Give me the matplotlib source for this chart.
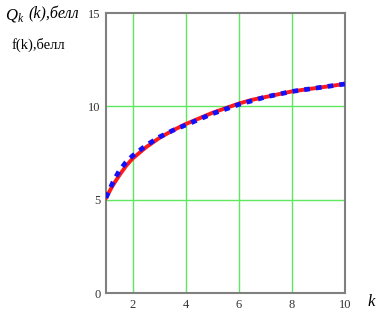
import matplotlib
matplotlib.use("Agg")
import matplotlib.pyplot as plt

plt.rcParams["mathtext.fontset"] = "custom"
plt.rcParams["mathtext.it"] = "Liberation Serif:italic"
plt.rcParams["mathtext.rm"] = "Liberation Serif"

k_vals = [1, 1.25, 1.5, 1.75, 2, 2.5, 3, 3.5, 4, 4.5, 5, 5.5, 6, 6.5, 7, 7.5, 8, 8.5, 9, 9.5, 10]
q_vals = [5.1, 5.9, 6.55, 7.0, 7.35, 7.9, 8.35, 8.7, 9.0, 9.3, 9.6, 9.85, 10.1, 10.3, 10.5, 10.65, 10.8, 10.9, 11.0, 11.1, 11.2]
f_vals = [5.1, 5.75, 6.3, 6.8, 7.2, 7.8, 8.3, 8.7, 9.05, 9.35, 9.65, 9.9, 10.15, 10.35, 10.5, 10.65, 10.8, 10.9, 11.0, 11.1, 11.2]
x_ticks = [2, 4, 6, 8, 10]
y_ticks = [0, 5, 10, 15]

fig = plt.figure(figsize=(3.91, 3.26), dpi=100)
ax = fig.add_axes([0.271, 0.101, 0.611, 0.859])
ax.set_xlim(1, 10)
ax.set_ylim(0, 15)
for v in [2, 4, 6, 8]:
    ax.axvline(v, color="#5ee85e", lw=1.0, zorder=1)
for v in [5, 10]:
    ax.axhline(v, color="#5ee85e", lw=1.0, zorder=1)
ax.plot(k_vals, f_vals, color="#ff1a1a", lw=2.8, zorder=3)
ax.plot(k_vals, q_vals, color="#1010ff", lw=3.4, linestyle=(0, (1.2, 1.3)), zorder=4)
ax.set_xticks(x_ticks)
ax.set_yticks(y_ticks)
ax.tick_params(length=0, pad=4, labelsize=9, labelcolor="#333333")
for lab in ax.get_xticklabels() + ax.get_yticklabels():
    lab.set_family("Liberation Serif")
for s in ax.spines.values():
    s.set_color("#808080")
    s.set_linewidth(1.5)
fig.text(0.013, 0.955, "$Q_k$", fontsize=12, va="center")
fig.text(0.072, 0.955, "(k),белл", fontsize=11.5, family="Liberation Serif", style="italic", va="center")
fig.text(0.03, 0.862, "f(k),белл", fontsize=10.5, family="Liberation Serif", va="center")
fig.text(0.94, 0.075, "k", fontsize=12, family="Liberation Serif", style="italic", va="center")
fig.savefig("out.png", dpi=100)
